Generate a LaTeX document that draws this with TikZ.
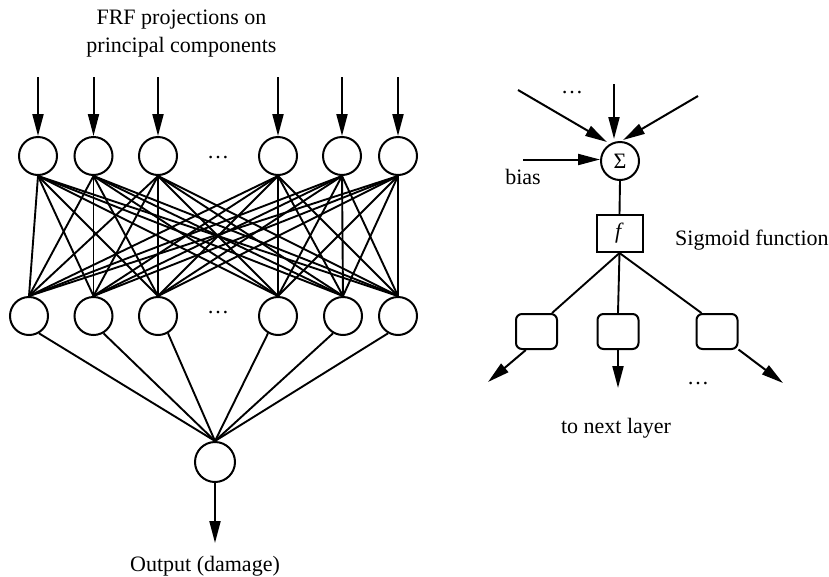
\documentclass[tikz,border=0pt]{standalone}
\usepackage{fontspec}
\setmainfont{Liberation Serif}
\usetikzlibrary{arrows.meta}
\begin{document}
\begin{tikzpicture}[x=1pt,y=-1pt,
  every node/.style={font=\fontsize{22}{28}\selectfont, inner sep=0pt},
  neuron/.style={draw, circle, line width=2pt, minimum size=38pt},
  fbox/.style={draw, rectangle, line width=2pt, minimum width=46pt, minimum height=37pt},
  outbox/.style={draw, rectangle, rounded corners=6pt, line width=2pt, minimum width=41pt, minimum height=35pt},
  conn/.style={line width=1.9pt},
  arr/.style={line width=2pt, -{Triangle[length=22pt,width=11pt]}}]
\useasboundingbox (0,0) rectangle (829,576);

% input layer
\foreach \n/\x in {1/38,2/93.5,3/158,4/278,5/342,6/398}{
  \node[neuron] (i\n) at (\x,156) {};
  \coordinate (c\n) at (\x,77);
  \draw[arr] (c\n) -- (i\n.north);
}
% hidden layer
\foreach \n/\x in {1/29,2/93.5,3/158,4/278,5/343,6/398}{
  \node[neuron] (h\n) at (\x,316) {};
}
\node[anchor=base] (d1) at (218,158) {…};
\node[anchor=base] (d2) at (218,313) {…};

\foreach \a in {1,...,6}{
  \foreach \b in {1,...,6}{
    \draw[conn] (i\a.south) -- (h\b.north);
  }
}
% output
\node[neuron, minimum size=40pt] (o) at (215,462) {};
\foreach \b in {1,2,3}{ \draw[conn] (h\b.-60) -- (o.north); }
\foreach \b in {4,5,6}{ \draw[conn] (h\b.240) -- (o.north); }
\coordinate (oe) at (215,543);
\draw[arr] (o.south) -- (oe);
\node[anchor=base] (ot) at (205,571) {Output (damage)};
\node[anchor=base] (tt1) at (181.5,24) {FRF projections on};
\node[anchor=base] (tt2) at (181.5,52) {principal components};

% right neuron
\node[neuron] (sig) at (620,161) {Σ};
\coordinate (s1) at (518,90);
\coordinate (s1e) at (607,142);
\coordinate (s2) at (614,84);
\coordinate (s2e) at (614,139);
\coordinate (s3) at (698,96);
\coordinate (s3e) at (623,140);
\draw[arr] (s1) -- (s1e);
\draw[arr] (s2) -- (s2e);
\draw[arr] (s3) -- (s3e);
\node[anchor=base] (d3) at (572,93) {…};
\coordinate (bs) at (523,159.5);
\draw[arr] (bs) -- (bs -| sig.west);
\node[anchor=base] (bias) at (523,184) {bias};

\node[fbox] (f) at (619.5,233.5) {\textit{f}};
\draw[conn] (sig.south) -- (f.north);
\node[anchor=base west] (sf) at (675,245) {Sigmoid function};

\node[outbox] (l1) at (536.5,331.5) {};
\node[outbox] (m1) at (618,331.5) {};
\node[outbox] (r1) at (717,331.5) {};
\draw[conn] (f.south) -- (l1.50);
\draw[conn] (f.south) -- (m1.north);
\draw[conn] (f.south) -- (r1.130);
\coordinate (le) at (488,382);
\coordinate (me) at (618,388);
\coordinate (re) at (783,383);
\draw[arr] (l1.240) -- (le);
\draw[arr] (m1.south) -- (me);
\draw[arr] (r1.320) -- (re);
\node[anchor=base] (d4) at (698,384) {…};
\node[anchor=base] (nl) at (616,433) {to next layer};
\end{tikzpicture}
\end{document}
